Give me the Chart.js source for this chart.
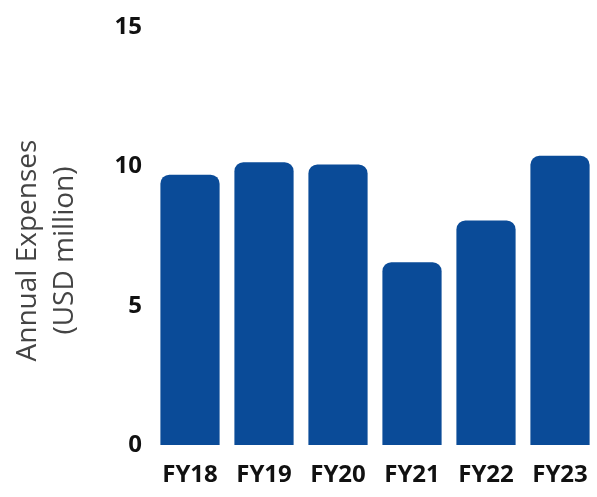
<!DOCTYPE html>
<html>
<head>
<meta charset="utf-8">
<script src="https://cdn.jsdelivr.net/npm/chart.js@4"></script>
<style>
  html, body { margin: 0; padding: 0; background: #fff; }
  #wrap { width: 597px; height: 497px; }
</style>
</head>
<body>
<div id="wrap"><canvas id="chart"></canvas></div>
<script>
const years = ['FY18', 'FY19', 'FY20', 'FY21', 'FY22', 'FY23'];
const expenses = [9.7, 10.15, 10.07, 6.56, 8.06, 10.38];
const yTicks = [0, 5, 10, 15];

const barColor = '#0A4B98';
const tickFont = { family: 'Open Sans', size: 24, weight: 'bold' };

new Chart(document.getElementById('chart').getContext('2d'), {
  type: 'bar',
  data: {
    labels: years,
    datasets: [{
      data: expenses,
      backgroundColor: barColor,
      borderRadius: 9,
      borderSkipped: 'start',
      categoryPercentage: 1,
      barPercentage: 0.8,
    }],
  },
  options: {
    responsive: true,
    maintainAspectRatio: false,
    animation: false,
    layout: { padding: { top: 27, right: 0, bottom: 0, left: 0 } },
    plugins: { legend: { display: false }, tooltip: { enabled: false } },
    scales: {
      x: {
        grid: { display: false, drawTicks: false },
        border: { display: false },
        ticks: { color: '#111', font: tickFont, padding: 16, maxRotation: 0 },
        afterFit: (axis) => {
          axis.height = 52;
          axis.paddingLeft = 0;
          axis.paddingRight = 0;
        },
      },
      y: {
        min: 0,
        max: 15,
        afterBuildTicks: (axis) => { axis.ticks = yTicks.map((v) => ({ value: v })); },
        grid: { display: false, drawTicks: false },
        border: { display: false },
        ticks: { color: '#111', font: tickFont, padding: 11 },
        title: {
          display: true,
          // trailing spaces nudge the rotated title a little lower
          text: ['Annual Expenses    ', '(USD million)    '],
          color: '#444',
          font: { family: 'Open Sans', size: 28, lineHeight: 1.3 },
          padding: { top: 10, bottom: 0 },
        },
        afterFit: (axis) => { axis.width = 153; },
      },
    },
  },
});
</script>
</body>
</html>
